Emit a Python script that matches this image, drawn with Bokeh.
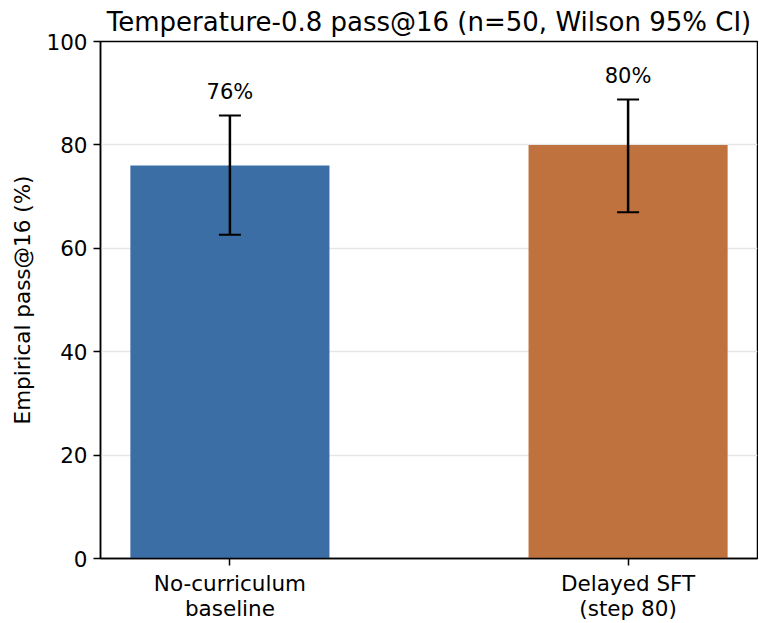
from bokeh.plotting import figure
from bokeh.models import ColumnDataSource, FixedTicker, Range1d, Whisker
from bokeh.embed import file_html
from bokeh.resources import INLINE

categories = ["No-curriculum\nbaseline", "Delayed SFT\n(step 80)"]
values = [76, 80]
ci_low = [62.6, 66.96]
ci_high = [85.7, 88.76]
labels = ["76%", "80%"]
colors = ["#3b6ea5", "#c0723e"]

xs = list(range(len(categories)))
src = ColumnDataSource(dict(x=xs, top=values, lo=ci_low, hi=ci_high,
                            lab=labels, color=colors,
                            ly=[h + 2.2 for h in ci_high]))

FONT = "DejaVu Sans"
p = figure(width=758, height=623, output_backend="svg", toolbar_location=None,
           x_range=Range1d(-0.325, 1.325), y_range=Range1d(0, 100),
           title="Temperature-0.8 pass@16 (n=50, Wilson 95% CI)",
           min_border_left=100, min_border_right=1, min_border_bottom=0,
           min_border_top=0)
p.title.text_font = FONT
p.title.text_font_size = "26px"
p.title.text_font_style = "normal"
p.title.align = "center"
p.title.text_color = "black"
p.title.standoff = 9

p.vbar(x="x", top="top", width=0.5, bottom=0, fill_color="color",
       line_color=None, source=src)
w = Whisker(base="x", lower="lo", upper="hi", source=src, line_color="black",
            line_width=2.5, level="overlay")
w.upper_head.size = 22
w.lower_head.size = 22
w.upper_head.line_width = 2
w.lower_head.line_width = 2
p.add_layout(w)
p.text(x="x", y="ly", text="lab", source=src, text_align="center",
       text_baseline="bottom", text_font_size="21px", text_font={"value": FONT},
       text_color="black")

p.xaxis.ticker = FixedTicker(ticks=xs)
p.xaxis.major_label_overrides = {i: c for i, c in enumerate(categories)}
p.yaxis.ticker = FixedTicker(ticks=[0, 20, 40, 60, 80, 100])
p.yaxis.axis_label = "Empirical pass@16 (%)"
for ax in (p.xaxis, p.yaxis):
    ax.major_label_text_font = FONT
    ax.major_label_text_font_size = "21.5px"
    ax.major_label_text_color = "black"
    ax.axis_label_text_font = FONT
    ax.axis_label_text_font_size = "21.5px"
    ax.axis_label_text_font_style = "normal"
    ax.axis_label_text_color = "black"
    ax.minor_tick_line_color = None
    ax.major_tick_out = 7
    ax.major_tick_in = 0
    ax.major_tick_line_width = 1.5
    ax.axis_line_width = 1.5
    ax.axis_line_color = "black"
    ax.major_tick_line_color = "black"
    ax.major_label_standoff = 6
p.xaxis.major_label_text_line_height = 1.0
p.xaxis.major_label_standoff = 5
p.yaxis.axis_label_standoff = 8
p.xgrid.grid_line_color = None
p.ygrid.grid_line_color = "#e6e6e6"
p.ygrid.grid_line_width = 1.5
p.outline_line_color = "black"
p.outline_line_width = 1.5
p.outline_line_alpha = 1

open("out.html", "w").write(file_html(p, INLINE))
